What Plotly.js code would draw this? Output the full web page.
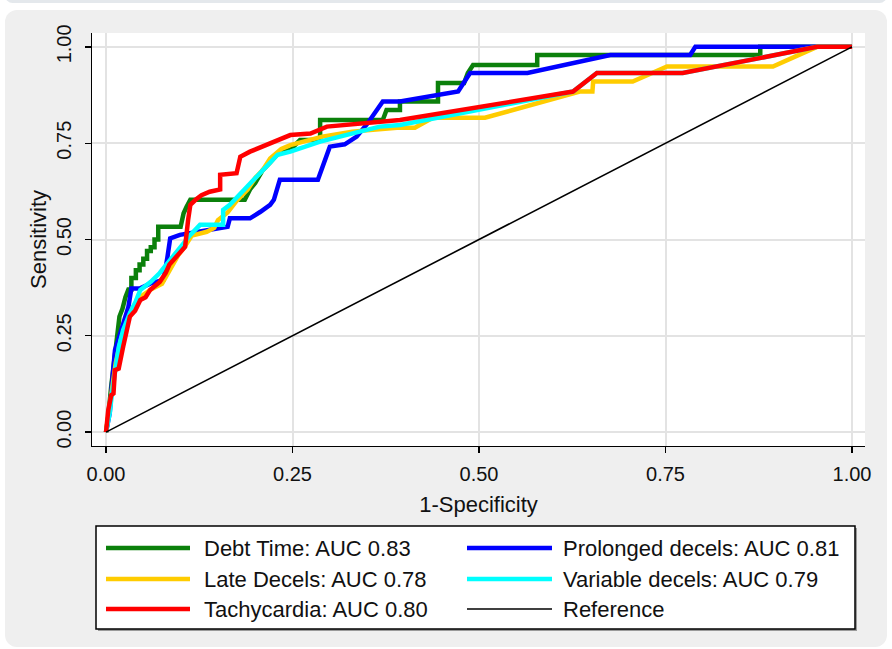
<!DOCTYPE html>
<html>
<head>
<meta charset="utf-8">
<script src="https://cdn.plot.ly/plotly-3.0.1.min.js"></script>
<style>
  html, body { margin: 0; padding: 0; background: #ffffff; width: 892px; height: 649px; overflow: hidden; }
  #topcard { position: absolute; left: 5px; top: -12px; width: 882px; height: 15px; background: #e4e8ec; border-radius: 10px; }
  #card { position: absolute; left: 5px; top: 10px; width: 882px; height: 637px; background: #efefef; border-radius: 12px; }
  #chart { position: absolute; left: 0; top: 0; width: 892px; height: 649px; }
</style>
</head>
<body>
<div id="topcard"></div>
<div id="card"></div>
<div id="chart"></div>
<script>
// ---- Data ----
const seriesNames = ["Debt Time: AUC 0.83", "Prolonged decels: AUC 0.81", "Late Decels: AUC 0.78",
                     "Variable decels: AUC 0.79", "Tachycardia: AUC 0.80", "Reference"];
const seriesColors = ["#0b800b", "#0000ff", "#ffcc00", "#00ffff", "#ff0000", "#000000"];

const debtX = [0,0.003,0.007,0.011,0.015,0.018,0.022,0.026,0.03,0.034,0.034,0.04,0.04,0.045,0.045,0.05,0.05,0.055,0.055,0.06,0.06,0.065,0.065,0.07,0.07,0.1,0.104,0.108,0.113,0.186,0.193,0.2,0.21,0.22,0.229,0.247,0.26,0.287,0.287,0.371,0.376,0.394,0.394,0.445,0.445,0.48,0.485,0.492,0.578,0.578,0.877,0.877,1];
const debtY = [0,0.04,0.12,0.2,0.25,0.3,0.32,0.35,0.37,0.37,0.4,0.4,0.42,0.42,0.435,0.435,0.45,0.45,0.47,0.47,0.48,0.48,0.5,0.5,0.533,0.533,0.568,0.585,0.603,0.603,0.63,0.647,0.68,0.7,0.72,0.733,0.758,0.758,0.81,0.81,0.836,0.836,0.858,0.858,0.906,0.906,0.932,0.953,0.953,0.979,0.979,1,1];

const prolX = [0,0.005,0.008,0.012,0.018,0.025,0.03,0.034,0.045,0.06,0.077,0.082,0.086,0.099,0.139,0.163,0.166,0.193,0.207,0.22,0.225,0.233,0.284,0.3,0.32,0.336,0.35,0.36,0.371,0.394,0.472,0.488,0.565,0.676,0.783,0.79,1];
const prolY = [0,0.05,0.127,0.213,0.25,0.3,0.325,0.373,0.373,0.386,0.395,0.45,0.503,0.512,0.525,0.533,0.555,0.555,0.572,0.59,0.603,0.655,0.655,0.741,0.747,0.767,0.8,0.828,0.858,0.858,0.884,0.932,0.932,0.979,0.979,1,1];

const lateX = [0,0.004,0.008,0.013,0.02,0.027,0.035,0.045,0.06,0.075,0.085,0.097,0.105,0.115,0.135,0.145,0.15,0.163,0.175,0.19,0.2,0.21,0.22,0.235,0.247,0.29,0.33,0.39,0.414,0.438,0.508,0.635,0.652,0.653,0.706,0.752,0.894,0.953,1];
const lateY = [0,0.06,0.12,0.18,0.24,0.28,0.32,0.35,0.37,0.385,0.42,0.46,0.48,0.51,0.52,0.53,0.55,0.57,0.6,0.63,0.66,0.68,0.71,0.735,0.745,0.767,0.78,0.79,0.79,0.816,0.816,0.884,0.884,0.91,0.91,0.949,0.949,1,1];

const varX = [0,0.005,0.008,0.012,0.017,0.023,0.032,0.04,0.046,0.06,0.072,0.086,0.103,0.113,0.126,0.157,0.157,0.166,0.189,0.216,0.23,0.247,0.287,0.34,0.367,0.394,0.626,0.658,0.773,0.953,1];
const varY = [0,0.05,0.101,0.16,0.22,0.265,0.309,0.34,0.369,0.39,0.413,0.447,0.49,0.512,0.538,0.538,0.577,0.59,0.637,0.689,0.72,0.728,0.754,0.78,0.793,0.797,0.884,0.932,0.932,1,1];

const tachX = [0,0.003,0.007,0.01,0.012,0.017,0.023,0.028,0.032,0.039,0.046,0.053,0.059,0.072,0.08,0.085,0.095,0.106,0.11,0.113,0.12,0.128,0.139,0.153,0.153,0.175,0.18,0.193,0.247,0.274,0.296,0.394,0.626,0.658,0.773,0.953,1];
const tachY = [0,0.057,0.096,0.1,0.161,0.165,0.222,0.26,0.3,0.315,0.343,0.35,0.369,0.39,0.413,0.435,0.455,0.481,0.55,0.59,0.603,0.615,0.624,0.63,0.668,0.672,0.715,0.728,0.771,0.775,0.793,0.81,0.884,0.932,0.932,1,1];

const refX = [0, 1];
const refY = [0, 1];

const tickVals = [0, 0.25, 0.5, 0.75, 1];
const tickText = ["0.00", "0.25", "0.50", "0.75", "1.00"];

// ---- Build ----
const xs = [debtX, prolX, lateX, varX, tachX, refX];
const ys = [debtY, prolY, lateY, varY, tachY, refY];
const widths = [4.5, 4.5, 4.5, 4.5, 4.5, 1.6];

const traces = xs.map((x, i) => ({
  type: "scatter", mode: "lines", x: x, y: ys[i], name: seriesNames[i],
  line: { color: seriesColors[i], width: widths[i], shape: "linear" },
  showlegend: false, hoverinfo: "skip"
}));

// plot area in pixels
const L = 92, R = 865, T = 33, B = 446;
const W = 892, H = 649;
const px = v => (v - L) / (R - L);
const py = v => (B - v) / (B - T);

const font = "Liberation Sans, Arial, Helvetica, sans-serif";
const shapes = [];
const annotations = [];

// legend box
shapes.push({ type: "rect", xref: "paper", yref: "paper", x0: px(98), x1: px(857), y0: py(528), y1: py(631),
  line: { width: 0 }, fillcolor: "#9a9a9a", layer: "above" });
shapes.push({ type: "rect", xref: "paper", yref: "paper", x0: px(96), x1: px(855), y0: py(526), y1: py(629),
  line: { color: "#000000", width: 1.5 }, fillcolor: "#ffffff", layer: "above" });

const colLineX = [[106, 190], [467, 552]];
const colTextX = [202, 561];
const rowY = [548, 579, 609];
seriesNames.forEach((n, i) => {
  const c = i % 2, r = Math.floor(i / 2);
  shapes.push({ type: "line", xref: "paper", yref: "paper",
    x0: px(colLineX[c][0]), x1: px(colLineX[c][1]), y0: py(rowY[r]), y1: py(rowY[r]),
    line: { color: seriesColors[i], width: i === 5 ? 1.6 : 4.5 }, layer: "above" });
  annotations.push({ xref: "paper", yref: "paper", x: px(colTextX[c]), y: py(rowY[r]),
    xanchor: "left", yanchor: "middle", showarrow: false, text: n,
    font: { family: font, size: 22, color: "#111111" } });
});

const layout = {
  width: W, height: H,
  margin: { l: L, r: W - R, t: T, b: H - B, pad: 0 },
  paper_bgcolor: "rgba(0,0,0,0)",
  plot_bgcolor: "#ffffff",
  showlegend: false,
  font: { family: font, size: 20, color: "#111111" },
  xaxis: {
    range: [-0.0188, 1.0174], tickvals: tickVals, ticktext: tickText,
    showline: true, linecolor: "#000000", linewidth: 1.3, mirror: false,
    ticks: "outside", ticklen: 6, tickwidth: 1.3, tickcolor: "#000000",
    showgrid: true, gridcolor: "#e3e3e3", gridwidth: 2, zeroline: false,
    tickfont: { family: font, size: 20, color: "#111111" },
    ticklabelstandoff: 4,
    title: { text: "1-Specificity", font: { family: font, size: 22, color: "#111111" }, standoff: 12 }
  },
  yaxis: {
    range: [-0.036, 1.036], tickvals: tickVals, ticktext: tickText, tickangle: -90,
    showline: true, linecolor: "#000000", linewidth: 1.3, mirror: false,
    ticks: "outside", ticklen: 6, tickwidth: 1.3, tickcolor: "#000000",
    showgrid: true, gridcolor: "#e3e3e3", gridwidth: 2, zeroline: false,
    tickfont: { family: font, size: 20, color: "#111111" },
    ticklabelstandoff: 6,
    title: { text: "Sensitivity", font: { family: font, size: 22, color: "#111111" }, standoff: 0 }
  },
  shapes: shapes,
  annotations: annotations
};

Plotly.newPlot("chart", traces, layout, { staticPlot: true, displayModeBar: false });
</script>
</body>
</html>
